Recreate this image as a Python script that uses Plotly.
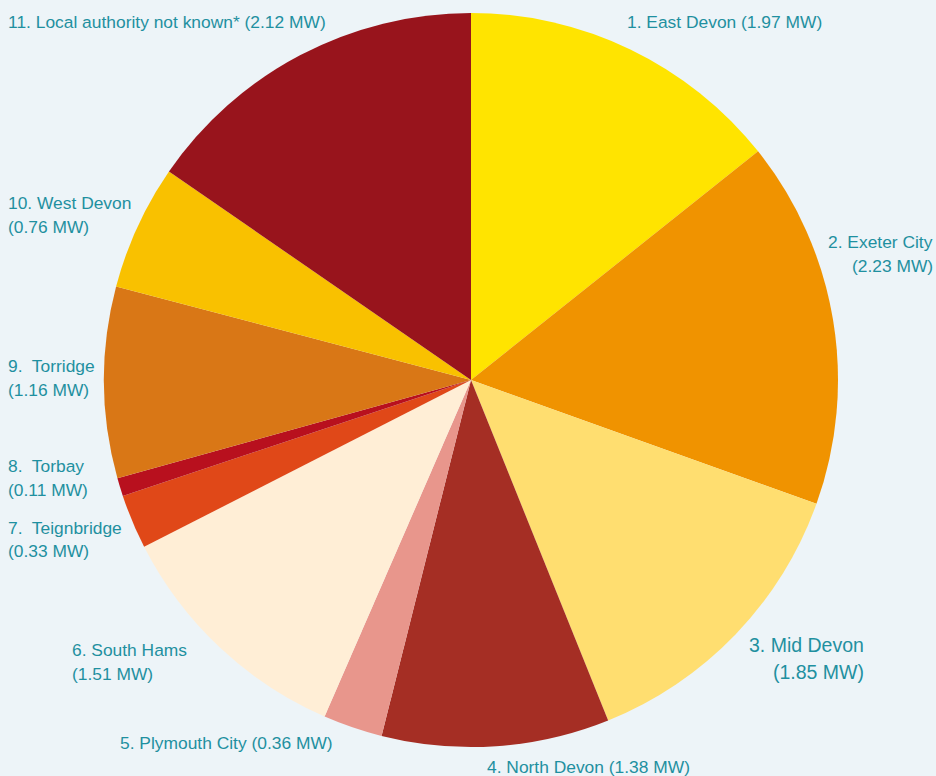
import plotly.graph_objects as go

W, H = 936, 776

names = ["East Devon", "Exeter City", "Mid Devon", "North Devon", "Plymouth City",
         "South Hams", "Teignbridge", "Torbay", "Torridge", "West Devon",
         "Local authority not known*"]
values_mw = [1.97, 2.23, 1.85, 1.38, 0.36, 1.51, 0.33, 0.11, 1.16, 0.76, 2.12]
colors = ["#FFE400", "#F09300", "#FFDE70", "#A52E24", "#E8968C", "#FFEED6",
          "#E04818", "#B8101E", "#D97716", "#F9C100", "#98141C"]

# label layout: list of lines per slice -> (text template, x px, y px, anchor, font size)
label_layout = [
    [("{n}. {name} ({v} MW)", 625, 22, "left", 17.4)],
    [("{n}. {name}", 935, 242, "right", 17.4), ("({v} MW)", 935, 266, "right", 17.4)],
    [("{n}. {name}", 866, 645, "right", 19.5), ("({v} MW)", 866, 672, "right", 19.5)],
    [("{n}. {name} ({v} MW)", 485, 767, "left", 17.4)],
    [("{n}. {name} ({v} MW)", 118, 743, "left", 17.4)],
    [("{n}. {name}", 70, 650, "left", 17.4), ("({v} MW)", 70, 674, "left", 17.4)],
    [("{n}.\u00a0 {name}", 6, 528, "left", 17.4), ("({v} MW)", 6, 551, "left", 17.4)],
    [("{n}.\u00a0 {name}", 6, 466, "left", 17.4), ("({v} MW)", 6, 490, "left", 17.4)],
    [("{n}.\u00a0 {name}", 6, 366, "left", 17.4), ("({v} MW)", 6, 390, "left", 17.4)],
    [("{n}. {name}", 6, 203, "left", 17.4), ("({v} MW)", 6, 227, "left", 17.4)],
    [("{n}. {name} ({v} MW)", 6, 22, "left", 17.4)],
]

cx, cy, r = 471, 380, 367

fig = go.Figure(go.Pie(
    labels=names,
    values=values_mw,
    sort=False,
    direction="clockwise",
    rotation=0,
    marker=dict(colors=colors, line=dict(width=0)),
    textinfo="none",
    hoverinfo="label+value",
    showlegend=False,
    domain=dict(x=[(cx - r) / W, (cx + r) / W], y=[1 - (cy + r) / H, 1 - (cy - r) / H]),
))

annotations = []
for i, (name, v) in enumerate(zip(names, values_mw)):
    for tpl, xp, yp, anchor, fs in label_layout[i]:
        annotations.append(dict(
            text=tpl.format(n=i + 1, name=name, v=f"{v:.2f}"),
            x=xp / W, y=1 - yp / H, xref="paper", yref="paper",
            xanchor=anchor, yanchor="middle", showarrow=False,
            font=dict(family="Liberation Sans, Arial, sans-serif", size=fs, color="#1F90A0"),
        ))

fig.update_layout(
    width=W, height=H,
    margin=dict(l=0, r=0, t=0, b=0),
    paper_bgcolor="#EDF4F8",
    plot_bgcolor="#EDF4F8",
    annotations=annotations,
)

fig.write_html("out.html", config={"displayModeBar": False})
